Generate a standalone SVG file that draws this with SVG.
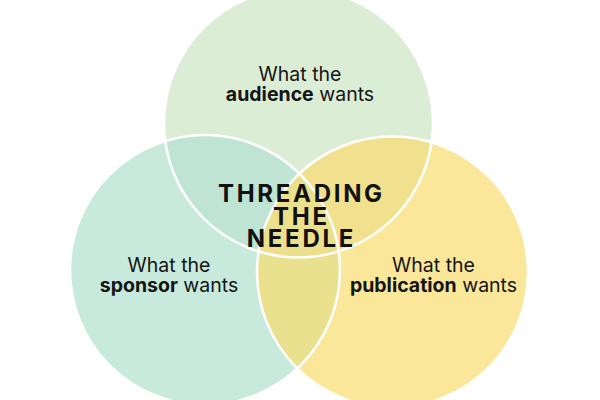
<svg xmlns="http://www.w3.org/2000/svg" width="600" height="400" viewBox="0 0 600 400">
<style>
.lbl{font-family:Inter,"DejaVu Sans",sans-serif;font-size:19.5px;fill:#141414;text-anchor:middle}
.b{font-weight:700}
.ttl{font-family:Inter,"DejaVu Sans",sans-serif;font-size:24px;font-weight:700;fill:#111;text-anchor:middle;letter-spacing:2.7px}
.edge{fill:none;stroke:#fff;stroke-width:2.5}
</style>
<defs>
<clipPath id="cT"><circle cx="298.5" cy="123" r="134.5"/></clipPath>
<clipPath id="cL"><circle cx="205" cy="270" r="135"/></clipPath>
<clipPath id="cTL" clip-path="url(#cT)"><circle cx="205" cy="270" r="135"/></clipPath>
</defs>
<rect width="600" height="400" fill="#fff"/>
<g id="audience">
<circle cx="298.5" cy="123" r="134.5" fill="#dcedd6"/>
</g>
<g id="sponsor">
<circle cx="205" cy="270" r="135" fill="#c8eadd"/>
</g>
<g id="publication">
<circle cx="392.5" cy="272" r="135.5" fill="#fae79a"/>
</g>
<g id="overlaps">
<circle cx="205" cy="270" r="135" fill="#bfe4d3" clip-path="url(#cT)"/>
<circle cx="392.5" cy="272" r="135.5" fill="#f1e08d" clip-path="url(#cT)"/>
<circle cx="392.5" cy="272" r="135.5" fill="#eae18e" clip-path="url(#cL)"/>
<circle cx="392.5" cy="272" r="135.5" fill="#ede08d" clip-path="url(#cTL)"/>
</g>
<g id="connectors">
<circle class="edge" cx="298.5" cy="123" r="134.5"/>
<circle class="edge" cx="205" cy="270" r="135"/>
<circle class="edge" cx="392.5" cy="272" r="135.5"/>
</g>
<g id="labels">
<text class="lbl" x="300" y="81">What the</text>
<text class="lbl" x="300" y="101"><tspan class="b">audience</tspan> wants</text>
<text class="lbl" x="169" y="272">What the</text>
<text class="lbl" x="169" y="292"><tspan class="b">sponsor</tspan> wants</text>
<text class="lbl" x="433.5" y="272">What the</text>
<text class="lbl" x="433.5" y="292"><tspan class="b">publication</tspan> wants</text>
</g>
<g id="center">
<text class="ttl" x="301.4" y="202">THREADING</text>
<text class="ttl" x="301.4" y="224.5">THE</text>
<text class="ttl" x="301.4" y="247">NEEDLE</text>
</g>
</svg>
